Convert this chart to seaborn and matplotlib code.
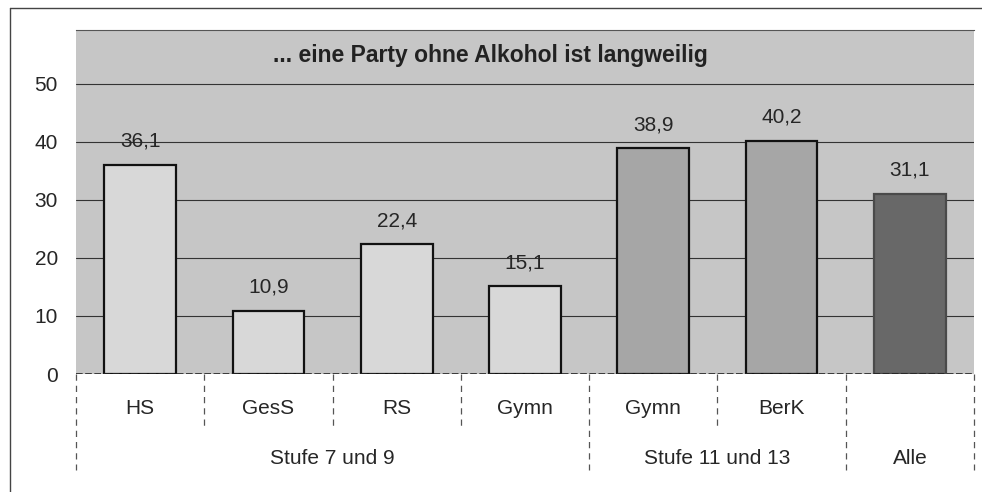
import matplotlib
matplotlib.use("Agg")
import matplotlib.pyplot as plt
import matplotlib.transforms as mtransforms
import pandas as pd
import seaborn as sns

# data
schools = ["HS", "GesS", "RS", "Gymn", "Gymn", "BerK", ""]
values = [36.1, 10.9, 22.4, 15.1, 38.9, 40.2, 31.1]
groups = ["Stufe 7 und 9", "Stufe 11 und 13", "Alle"]
group_sizes = [4, 2, 1]
bar_colours = ["#d8d8d8"] * 4 + ["#a6a6a6"] * 2 + ["#686868"]
yticks = [0, 10, 20, 30, 40, 50]

sns.set_style("white")
plt.rcParams["font.family"] = ["Liberation Sans", "DejaVu Sans"]
FS = 15

df = pd.DataFrame({"pos": [str(i) for i in range(len(values))], "value": values})

fig = plt.figure(figsize=(9.82, 4.92), dpi=100)
W, H = 982, 492
ax = fig.add_axes([76 / W, (H - 374) / H, (974 - 76) / W, (374 - 30) / H])

sns.barplot(data=df, x="pos", y="value", hue="pos", palette=bar_colours,
            legend=False, width=0.56, ax=ax, saturation=1, zorder=3)
for i, p in enumerate(ax.patches):
    p.set_edgecolor("#111111" if i < 6 else "#4a4a4a")
    p.set_linewidth(1.6)

ax.set_facecolor("#c6c6c6")
ax.set_xlim(-0.5, len(values) - 0.5)
ax.set_ylim(0, 59.3)
ax.set_yticks(yticks)
ax.set_yticklabels([str(t) for t in yticks], fontsize=FS)
ax.tick_params(axis="y", length=0, pad=13)
ax.set_xticks([])
ax.set_xlabel("")
ax.set_ylabel("")
for t in yticks[1:]:
    ax.axhline(t, color="#333333", lw=0.8, zorder=1)
ax.axhline(0, color="#222222", lw=1.2, ls=(0, (4, 1.5)), zorder=4)
for s in ["left", "right", "bottom"]:
    ax.spines[s].set_visible(False)
ax.spines["top"].set_color("#555555")
ax.spines["top"].set_linewidth(0.8)

# value labels
for i, v in enumerate(values):
    ax.annotate(f"{v:.1f}".replace(".", ","), (i, v), xytext=(0, 10),
                textcoords="offset points", ha="center", va="bottom", fontsize=FS)

ax.text(0.462, 0.927, "... eine Party ohne Alkohol ist langweilig", transform=ax.transAxes,
        ha="center", va="center", fontsize=16.5, fontweight="bold", color="#222222")

# two-level category axis below the plot
trans = mtransforms.blended_transform_factory(ax.transData, ax.transAxes)
for i, lab in enumerate(schools):
    ax.text(i, -0.1, lab, transform=trans, ha="center", va="center", fontsize=FS)

group_edges = [-0.5]
for n in group_sizes:
    group_edges.append(group_edges[-1] + n)
for b in range(len(values) + 1):
    x = b - 0.5
    low = -0.28 if x in group_edges else -0.155
    ax.plot([x, x], [0, low], transform=trans, color="#555555", lw=0.9,
            ls=(0, (5, 4)), clip_on=False)
for g, a, b in zip(groups, group_edges[:-1], group_edges[1:]):
    ax.text((a + b) / 2, -0.245, g, transform=trans, ha="center", va="center", fontsize=FS)

# outer chart frame
fig.add_artist(plt.Line2D([10 / W, 10 / W], [0, 1 - 8 / H], transform=fig.transFigure,
                          color="#444444", lw=1.0))
fig.add_artist(plt.Line2D([10 / W, 1], [1 - 8 / H, 1 - 8 / H], transform=fig.transFigure,
                          color="#444444", lw=1.0))

fig.savefig("out.png", dpi=100, facecolor="white")
